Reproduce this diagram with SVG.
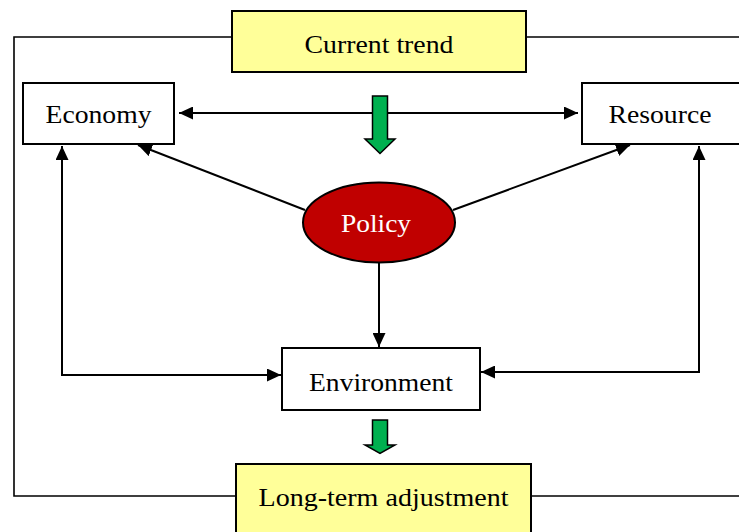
<svg xmlns="http://www.w3.org/2000/svg" width="739" height="532" viewBox="0 0 739 532">
<style>
.box{fill:#fff;stroke:#000;stroke-width:2}
.ybox{fill:#FFFF99;stroke:#000;stroke-width:2}
.lbl{font-family:"Liberation Serif","Times New Roman",serif;font-size:26px;fill:#000;text-anchor:middle}
.con{fill:none;stroke:#000;stroke-width:2}
.frame{fill:none;stroke:#000;stroke-width:1.6}
.green{fill:#00B050;stroke:#000;stroke-width:1.5;stroke-linejoin:miter}
</style>
<defs>
<marker id="ah" markerUnits="userSpaceOnUse" markerWidth="14" markerHeight="13" refX="14" refY="6.5" orient="auto-start-reverse" viewBox="0 0 14 13">
<path d="M0,0 L14,6.5 L0,13 z" fill="#000"/>
</marker>
</defs>
<g id="frame">
<path class="frame" d="M232,37 H14 V496 H236"/>
<path class="frame" d="M526,37 H739"/>
<path class="frame" d="M531,496 H739"/>
</g>
<g id="connectors">
<path class="con" d="M179,113 H578" marker-start="url(#ah)" marker-end="url(#ah)"/>
<path class="con" d="M305,210 L138,145" marker-end="url(#ah)"/>
<path class="con" d="M453,210 L630,145" marker-end="url(#ah)"/>
<path class="con" d="M379,263 V347" marker-end="url(#ah)"/>
<path class="con" d="M62,146 V375 H281" marker-start="url(#ah)" marker-end="url(#ah)"/>
<path class="con" d="M699,146 V372 H481" marker-start="url(#ah)" marker-end="url(#ah)"/>
</g>
<g id="current-trend">
<rect class="ybox" x="232" y="11" width="294" height="61"/>
<text class="lbl" x="379" y="53" textLength="149" lengthAdjust="spacingAndGlyphs">Current trend</text>
</g>
<g id="economy">
<rect class="box" x="23" y="83" width="151" height="61"/>
<text class="lbl" x="98.5" y="123" textLength="106" lengthAdjust="spacingAndGlyphs">Economy</text>
</g>
<g id="resource">
<rect class="box" x="582" y="83" width="158" height="61"/>
<text class="lbl" x="660" y="123" textLength="103" lengthAdjust="spacingAndGlyphs">Resource</text>
</g>
<g id="policy">
<ellipse cx="379" cy="222.5" rx="76" ry="40" fill="#C00000" stroke="#000" stroke-width="2"/>
<text class="lbl" x="376" y="232" fill="#fff" style="fill:#fff" textLength="70" lengthAdjust="spacingAndGlyphs">Policy</text>
</g>
<g id="environment">
<rect class="box" x="282" y="348" width="198" height="62"/>
<text class="lbl" x="381" y="391" textLength="144" lengthAdjust="spacingAndGlyphs">Environment</text>
</g>
<g id="long-term-adjustment">
<rect class="ybox" x="236" y="464" width="295" height="80"/>
<text class="lbl" x="383.5" y="506" textLength="250" lengthAdjust="spacingAndGlyphs">Long-term adjustment</text>
</g>
<g id="green-arrow-top">
<path class="green" d="M372.5,96 H387.5 V139 H395 L380,153.5 L365,139 H372.5 Z"/>
</g>
<g id="green-arrow-bottom">
<path class="green" d="M372.5,420 H387.5 V445 H395 L380,453.5 L365,445 H372.5 Z"/>
</g>
</svg>
